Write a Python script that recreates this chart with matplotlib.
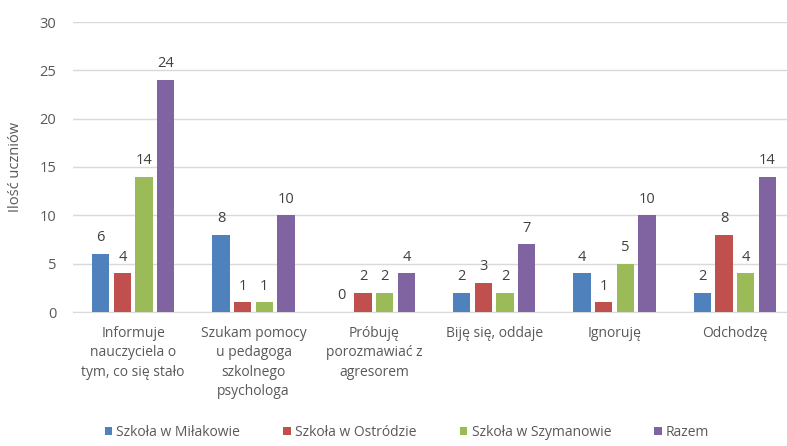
import numpy as np
import matplotlib
matplotlib.use("Agg")
import matplotlib.pyplot as plt

categories = [
    "Informuje\nnauczyciela o\ntym, co się stało",
    "Szukam pomocy\nu pedagoga\nszkolnego\npsychologa",
    "Próbuję\nporozmawiać z\nagresorem",
    "Biję się, oddaje",
    "Ignoruję",
    "Odchodzę",
]
series_names = ["Szkoła w Miłakowie", "Szkoła w Ostródzie", "Szkoła w Szymanowie", "Razem"]
milakowo = [6, 8, 0, 2, 4, 2]
ostroda = [4, 1, 2, 3, 1, 8]
szymanowo = [14, 1, 2, 2, 5, 4]
razem = [24, 10, 4, 7, 10, 14]
colors = ["#4F81BD", "#C0504D", "#9BBB59", "#8064A2"]

plt.rcParams['font.family'] = ['Open Sans', 'DejaVu Sans']
txt = "#595959"

fig = plt.figure(figsize=(7.87, 4.46), dpi=100)
ax = fig.add_axes([73 / 787, 134 / 446, 722 / 787, 290 / 446])

x = np.arange(len(categories))
slot = 0.18
width = 0.145
for i, (vals, name, c) in enumerate(zip([milakowo, ostroda, szymanowo, razem], series_names, colors)):
    pos = x + (i - 1.5) * slot
    ax.bar(pos, vals, width, color=c, label=name, zorder=3)
    for p, v in zip(pos, vals):
        ax.text(p, v + 0.9, str(v), ha="center", va="bottom", fontsize=10.5, color="#404040")

ax.set_xlim(-0.5, len(categories) - 0.5)
ax.set_ylim(0, 30)
ax.set_yticks(range(0, 31, 5))
ax.yaxis.grid(True, color="#D9D9D9", linewidth=1, zorder=0)
for s in ["top", "right", "left"]:
    ax.spines[s].set_visible(False)
ax.spines["bottom"].set_color("#D9D9D9")
ax.tick_params(axis="both", length=0, colors=txt, labelsize=10.5)
ax.tick_params(axis="y", pad=12)
ax.set_xticks(x)
ax.set_xticklabels(categories, fontsize=10, color=txt, linespacing=1.4, va="top")
ax.tick_params(axis="x", pad=10)
ax.set_ylabel("Ilość uczniów", color=txt, fontsize=10.5, labelpad=12)

fig.legend(loc="lower center", bbox_to_anchor=(407 / 787, -0.015), ncol=4, frameon=False,
           fontsize=10, handlelength=0.55, handleheight=0.55, handletextpad=0.3,
           columnspacing=3.1, labelcolor=txt)

fig.savefig("out.png", dpi=100)
